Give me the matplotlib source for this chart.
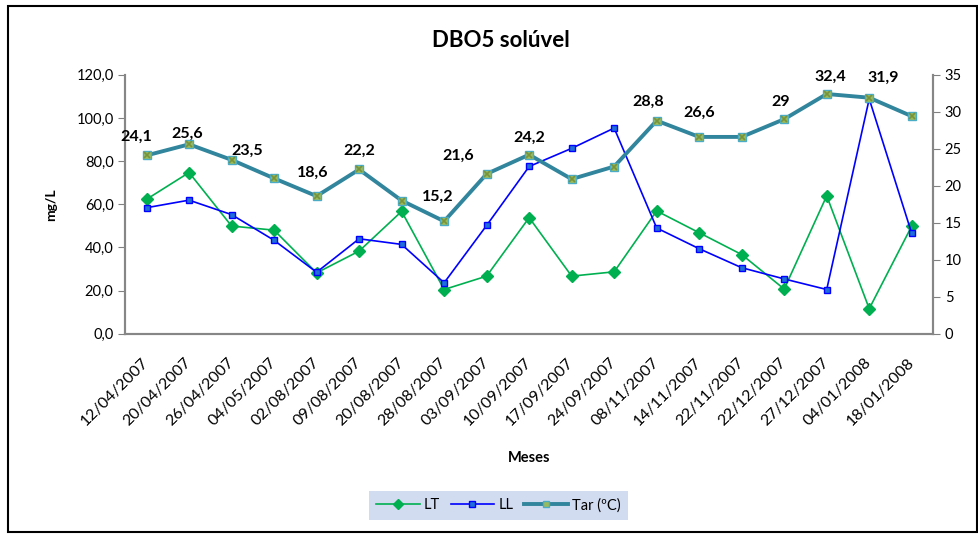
import matplotlib.pyplot as plt
from matplotlib.patches import Rectangle
from matplotlib.ticker import FuncFormatter

plt.rcParams['font.family'] = ['Lato', 'DejaVu Sans']

datas = ['12/04/2007', '20/04/2007', '26/04/2007', '04/05/2007', '02/08/2007',
         '09/08/2007', '20/08/2007', '28/08/2007', '03/09/2007', '10/09/2007',
         '17/09/2007', '24/09/2007', '08/11/2007', '14/11/2007', '22/11/2007',
         '22/12/2007', '27/12/2007', '04/01/2008', '18/01/2008']

lt = [62.3, 74.7, 49.9, 48.0, 28.2, 38.3, 56.7, 20.5, 26.7, 53.8,
      26.7, 28.7, 56.9, 46.8, 36.7, 20.7, 63.9, 11.6, 49.9]
ll = [58.4, 61.9, 55.2, 43.3, 28.5, 44.0, 41.4, 23.6, 50.2, 77.5,
      85.9, 95.3, 49.0, 39.4, 30.6, 25.4, 20.5, 108.8, 46.5]
tar = [24.1, 25.6, 23.5, 21.0, 18.6, 22.2, 18.0, 15.2, 21.6, 24.2,
       20.9, 22.6, 28.8, 26.6, 26.6, 29.0, 32.4, 31.9, 29.4]

# which points of Tar carry a data label
tar_labels = {0: '24,1', 1: '25,6', 2: '23,5', 4: '18,6', 5: '22,2', 7: '15,2',
              8: '21,6', 9: '24,2', 12: '28,8', 13: '26,6', 15: '29', 16: '32,4',
              17: '31,9'}
# label offsets in pixels (dx, dy) relative to the point
label_off = {0: (-10, 12), 1: (-2, 4), 2: (16, 2), 4: (-4, 16), 5: (0, 12),
             7: (-6, 17), 8: (-28, 11), 9: (0, 10), 12: (-8, 12), 13: (0, 17),
             15: (-4, 10), 16: (4, 10), 17: (14, 13)}

fig = plt.figure(figsize=(9.79, 5.34), dpi=100)
fig.patches.append(Rectangle((0.008, 0.004), 0.99, 0.985, transform=fig.transFigure,
                             fill=False, edgecolor='black', linewidth=1.5))

ax = fig.add_axes([0.128, 0.375, 0.825, 0.485])
ax2 = ax.twinx()

x = list(range(len(datas)))
ax.plot(x, lt, color='#00b050', linewidth=1.2, marker='D', markersize=6,
        markerfacecolor='#00b050', markeredgecolor='#00b050', label='LT', zorder=3)
ax.plot(x, ll, color='#0000ff', linewidth=1.2, marker='s', markersize=5,
        markerfacecolor='#1f6fd6', markeredgecolor='#0000ff', label='LL', zorder=3)
ax2.plot(x, tar, color='#31859c', linewidth=2.8, marker='s', markersize=6,
         markerfacecolor='#9bbb59', markeredgecolor='#4bacc6', label='Tar (ºC)', zorder=3)
ax2.plot(x, tar, linestyle='none', marker='x', markersize=4, color='#77933c',
         markeredgewidth=1.2, zorder=4)

for i, txt in tar_labels.items():
    dx, dy = label_off[i]
    ax2.annotate(txt, (x[i], tar[i]), xytext=(dx * 0.72, dy * 0.72),
                 textcoords='offset points', ha='center', va='bottom',
                 fontsize=11.5, fontweight='bold')

ax.set_xlim(-0.5, len(datas) - 0.5)
ax.set_ylim(0, 120)
ax2.set_ylim(0, 35)
ax.set_yticks(range(0, 121, 20))
ax2.set_yticks(range(0, 36, 5))
ax.yaxis.set_major_formatter(FuncFormatter(lambda v, p: f'{v:.1f}'.replace('.', ',')))
ax.set_xticks(x)
ax.set_xticklabels(datas, rotation=45, ha='right', va='center', rotation_mode='anchor',
                   fontsize=11.5)
ax.tick_params(axis='x', length=0, pad=19)
ax.tick_params(axis='y', labelsize=10.5, color='#808080', length=5)
ax2.tick_params(axis='y', labelsize=10.5, color='#808080', length=5)

for a in (ax, ax2):
    a.spines['top'].set_visible(False)
    for s in ('left', 'right', 'bottom'):
        a.spines[s].set_color('#868686')
        a.spines[s].set_linewidth(1.5)

ax.set_ylabel('mg/L', fontsize=10, fontweight='bold', labelpad=14)
ax.set_xlabel('Meses', fontsize=10.5, fontweight='bold', labelpad=16)
fig.text(0.512, 0.925, 'DBO5 solúvel', ha='center', va='center',
         fontsize=16, fontweight='bold')

h1, l1 = ax.get_legend_handles_labels()
h2, l2 = ax2.get_legend_handles_labels()
leg = fig.legend(h1 + h2[:1], l1 + l2[:1], loc='center', bbox_to_anchor=(0.509, 0.054),
                 ncol=3, frameon=True, fontsize=10.5, handlelength=3.0, columnspacing=0.7,
                 handletextpad=0.3, borderpad=0.5, fancybox=False, markerscale=0.8)
leg.get_frame().set_facecolor('#c6d4ee')
leg.get_frame().set_edgecolor('none')

fig.savefig('out.png', dpi=100)
